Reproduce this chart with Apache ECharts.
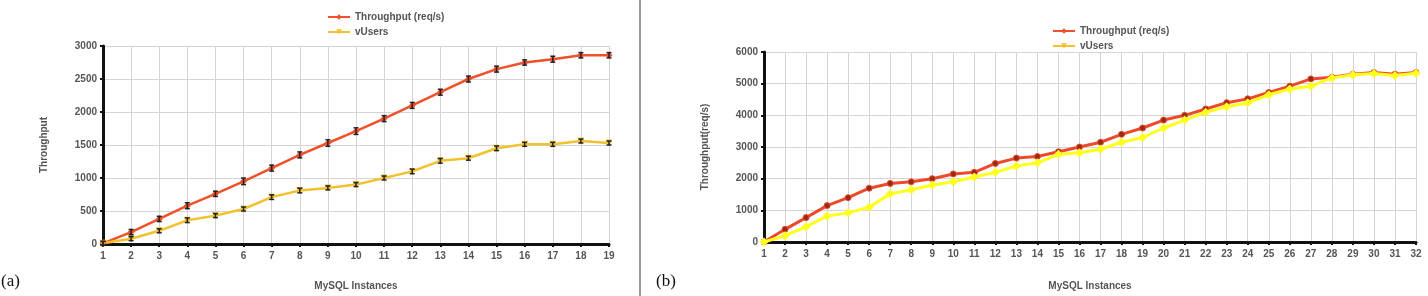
<!DOCTYPE html>
<html>
<head>
<meta charset="utf-8">
<script src="https://cdn.jsdelivr.net/npm/echarts@6/dist/echarts.min.js"></script>
<style>
  html, body { margin: 0; padding: 0; background: #fff; }
  #main { width: 1428px; height: 296px; }
</style>
</head>
<body>
<div id="main"></div>
<script>
// (a) 1..19 MySQL instances
var catsA = ["1","2","3","4","5","6","7","8","9","10","11","12","13","14","15","16","17","18","19"];
var tputA = [10, 180, 380, 580, 760, 950, 1150, 1350, 1530, 1710, 1900, 2100, 2300, 2500, 2650, 2750, 2800, 2860, 2860];
var usersA = [10, 80, 200, 360, 430, 530, 710, 810, 850, 900, 1000, 1100, 1260, 1300, 1450, 1510, 1510, 1560, 1530];
var tputErrA = [30, 40, 40, 45, 40, 50, 45, 45, 50, 50, 45, 45, 45, 45, 45, 40, 45, 40, 40];
var usersErrA = [30, 30, 30, 35, 30, 30, 35, 35, 30, 30, 30, 35, 35, 30, 35, 30, 30, 30, 30];

// (b) 1..32 MySQL instances
var catsB = [];
for (var i = 1; i <= 32; i++) catsB.push(String(i));
var tputB = [0, 400, 770, 1150, 1400, 1700, 1850, 1900, 2000, 2150, 2200, 2480, 2650, 2700, 2850, 3000,
             3150, 3400, 3600, 3850, 4000, 4200, 4400, 4520, 4720, 4920, 5150, 5200, 5300, 5350, 5300, 5350];
var usersB = [0, 200, 480, 820, 920, 1100, 1520, 1650, 1800, 1900, 2050, 2200, 2400, 2500, 2770, 2820,
              2930, 3150, 3300, 3600, 3850, 4100, 4270, 4400, 4650, 4830, 4920, 5180, 5280, 5320, 5260, 5330];

var chart = echarts.init(document.getElementById("main"));

function errBar(params, api) {
  var x = api.value(0), y = api.value(1), e = api.value(2);
  var hi = api.coord([x, y + e]);
  var lo = api.coord([x, y - e]);
  var w = 2.5;
  var st = { stroke: "#222", lineWidth: 1.5 };
  return {
    type: "group",
    children: [
      { type: "line", shape: { x1: hi[0], y1: hi[1], x2: lo[0], y2: lo[1] }, style: st },
      { type: "line", shape: { x1: hi[0] - w, y1: hi[1], x2: hi[0] + w, y2: hi[1] }, style: st },
      { type: "line", shape: { x1: lo[0] - w, y1: lo[1], x2: lo[0] + w, y2: lo[1] }, style: st }
    ]
  };
}

function withErr(vals, errs) {
  return vals.map(function (v, i) { return [i, v, errs[i]]; });
}

var labelStyle = { color: "#555", fontSize: 10, fontWeight: "bold", fontFamily: "Liberation Sans" };
var nameStyle = { color: "#555", fontSize: 10, fontWeight: "bold", fontFamily: "Liberation Sans" };

function xAxisOf(idx, cats, gap) {
  return {
    gridIndex: idx,
    type: "category",
    data: cats,
    boundaryGap: false,
    name: "MySQL Instances",
    nameLocation: "middle",
    nameGap: gap,
    nameTextStyle: nameStyle,
    axisLine: { lineStyle: { color: "#111", width: 3 } },
    axisTick: { show: true, length: 3, lineStyle: { color: "#111", width: 2 } },
    axisLabel: Object.assign({ interval: 0, margin: 7 }, labelStyle),
    splitLine: { show: true, lineStyle: { color: "#d4d4d4", width: 1 } }
  };
}

function yAxisOf(idx, max, step, name, gap) {
  return {
    gridIndex: idx,
    type: "value",
    min: 0,
    max: max,
    interval: step,
    name: name,
    nameLocation: "middle",
    nameGap: gap,
    nameTextStyle: nameStyle,
    axisLine: { show: true, lineStyle: { color: "#111", width: 3 } },
    axisTick: { show: true, length: 3, lineStyle: { color: "#111", width: 2 } },
    axisLabel: Object.assign({ margin: 6, formatter: function (v) { return String(v); } }, labelStyle),
    splitLine: { show: true, lineStyle: { color: "#d4d4d4", width: 1 } }
  };
}

var option = {
  animation: false,
  backgroundColor: "#fff",
  textStyle: { fontFamily: "Liberation Sans" },
  grid: [
    { left: 103, top: 46, width: 506, height: 199 },
    { left: 764, top: 52, width: 652, height: 194 }
  ],
  legend: [
    {
      left: 322, top: 7, orient: "vertical", itemGap: 5, itemWidth: 22, itemHeight: 7,
      data: [{ name: "Throughput (req/s)" }, { name: "vUsers" }],
      textStyle: { color: "#555", fontSize: 10, fontWeight: "bold" }
    },
    {
      left: 1047, top: 21, orient: "vertical", itemGap: 5, itemWidth: 22, itemHeight: 7,
      data: [{ name: "Throughput (req/s)" }, { name: "vUsers" }],
      textStyle: { color: "#555", fontSize: 10, fontWeight: "bold" }
    }
  ],
  xAxis: [xAxisOf(0, catsA, 37), xAxisOf(1, catsB, 39)],
  yAxis: [
    yAxisOf(0, 3000, 500, "Throughput", 54),
    yAxisOf(1, 6000, 1000, "Throughput(req/s)", 54)
  ],
  series: [
    {
      name: "Throughput (req/s)", type: "line", xAxisIndex: 0, yAxisIndex: 0,
      data: tputA, symbol: "diamond", symbolSize: 7,
      lineStyle: { color: "#f0502a", width: 2.5 }, itemStyle: { color: "#f0502a" }, z: 3
    },
    {
      name: "vUsers", type: "line", xAxisIndex: 0, yAxisIndex: 0,
      data: usersA, symbol: "triangle", symbolRotate: 180, symbolSize: 7,
      lineStyle: { color: "#f2c12e", width: 2.5 }, itemStyle: { color: "#f2c12e" }, z: 3
    },
    {
      type: "custom", xAxisIndex: 0, yAxisIndex: 0, renderItem: errBar,
      data: withErr(tputA, tputErrA), z: 4, silent: true
    },
    {
      type: "custom", xAxisIndex: 0, yAxisIndex: 0, renderItem: errBar,
      data: withErr(usersA, usersErrA), z: 4, silent: true
    },
    {
      name: "Throughput (req/s)", type: "line", xAxisIndex: 1, yAxisIndex: 1,
      data: tputB, symbol: "circle", symbolSize: 6,
      lineStyle: { color: "#ec4a2a", width: 3 },
      itemStyle: { color: "#9a2a14", borderColor: "#ec4a2a", borderWidth: 1 }, z: 3
    },
    {
      name: "vUsers", type: "line", xAxisIndex: 1, yAxisIndex: 1,
      data: usersB, symbol: "diamond", symbolSize: 9,
      lineStyle: { color: "#ffff1e", width: 3 }, itemStyle: { color: "#ffff1e" }, z: 4
    }
  ],
  graphic: [
    {
      type: "line", shape: { x1: 640, y1: 0, x2: 640, y2: 296 },
      style: { stroke: "#777", lineWidth: 1.5 }
    },
    {
      type: "text", left: 1, top: 273,
      style: { text: "(a)", fill: "#111", font: "17px 'Liberation Serif'" }
    },
    {
      type: "text", left: 656, top: 273,
      style: { text: "(b)", fill: "#111", font: "17px 'Liberation Serif'" }
    }
  ]
};

chart.setOption(option);
</script>
</body>
</html>
